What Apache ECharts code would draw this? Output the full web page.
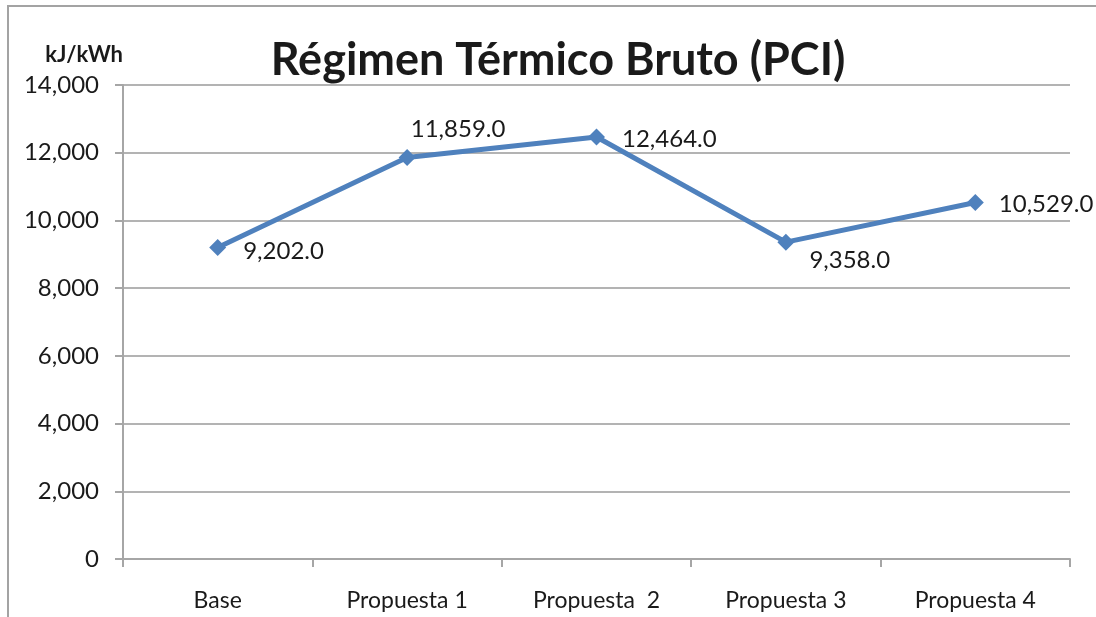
<!DOCTYPE html>
<html>
<head>
<meta charset="utf-8">
<script src="https://cdn.jsdelivr.net/npm/echarts@6/dist/echarts.min.js"></script>
<style>
  html, body { margin: 0; padding: 0; background: #fff; }
  .frame {
    position: absolute; left: 7px; top: 5px; width: 1089px; height: 612px;
    border-left: 2px solid #a3a3a3; border-top: 2px solid #a3a3a3;
  }
  #main { position: absolute; left: 0; top: 0; width: 1096px; height: 617px; }
</style>
</head>
<body>
<div class="frame"></div>
<div id="main"></div>
<script>
// datos del gráfico
var categorias = ['Base', 'Propuesta 1', 'Propuesta  2', 'Propuesta 3', 'Propuesta 4'];
var regimen = [9202, 11859, 12464, 9358, 10529];

function fmt(v, dec) {
  var s = v.toFixed(dec).split('.');
  s[0] = s[0].replace(/\B(?=(\d{3})+(?!\d))/g, ',');
  return s.join('.');
}

// posición de cada etiqueta, como en el original
var etiquetas = [
  { position: 'right', offset: [12, 4] },
  { position: 'top', offset: [51, -3] },
  { position: 'right', offset: [12, 2] },
  { position: 'right', offset: [10, 18] },
  { position: 'right', offset: [10, 2] }
];

var myChart = echarts.init(document.getElementById('main'));
var option = {
  animation: false,
  textStyle: { fontFamily: 'Lato' },
  title: {
    text: 'Régimen Térmico Bruto (PCI)',
    left: 553,
    textAlign: 'center',
    top: 33,
    textStyle: { fontSize: 45, fontWeight: 'bold', color: '#1a1a1a', fontFamily: 'Lato' }
  },
  grid: { left: 123, right: 26, top: 85, bottom: 58 },
  xAxis: {
    type: 'category',
    data: categorias,
    boundaryGap: true,
    axisLine: { lineStyle: { color: '#a6a6a6', width: 2 } },
    axisTick: { show: true, length: 8, lineStyle: { color: '#a6a6a6', width: 2 } },
    axisLabel: { fontSize: 23, color: '#1a1a1a', margin: 30 }
  },
  yAxis: {
    type: 'value',
    name: 'kJ/kWh',
    nameLocation: 'end',
    nameGap: 19,
    nameTextStyle: { fontSize: 22, fontWeight: 'bold', color: '#1a1a1a', align: 'right', padding: [0, 0, 0, 0] },
    min: 0,
    max: 14000,
    interval: 2000,
    axisLine: { show: true, lineStyle: { color: '#a6a6a6', width: 2 } },
    axisTick: { show: true, length: 8, lineStyle: { color: '#a6a6a6', width: 2 } },
    axisLabel: { fontSize: 24, color: '#1a1a1a', margin: 24, formatter: function (v) { return fmt(v, 0); } },
    splitLine: { show: true, lineStyle: { color: '#b3b3b3', width: 2 } }
  },
  series: [{
    type: 'line',
    data: regimen.map(function (v, i) {
      return { value: v, label: etiquetas[i] };
    }),
    symbol: 'diamond',
    symbolSize: 17,
    itemStyle: { color: '#4f81bd' },
    lineStyle: { color: '#4f81bd', width: 5 },
    label: {
      show: true,
      fontSize: 24,
      color: '#1a1a1a',
      formatter: function (p) { return fmt(p.value, 1); }
    }
  }]
};
myChart.setOption(option);
</script>
</body>
</html>
